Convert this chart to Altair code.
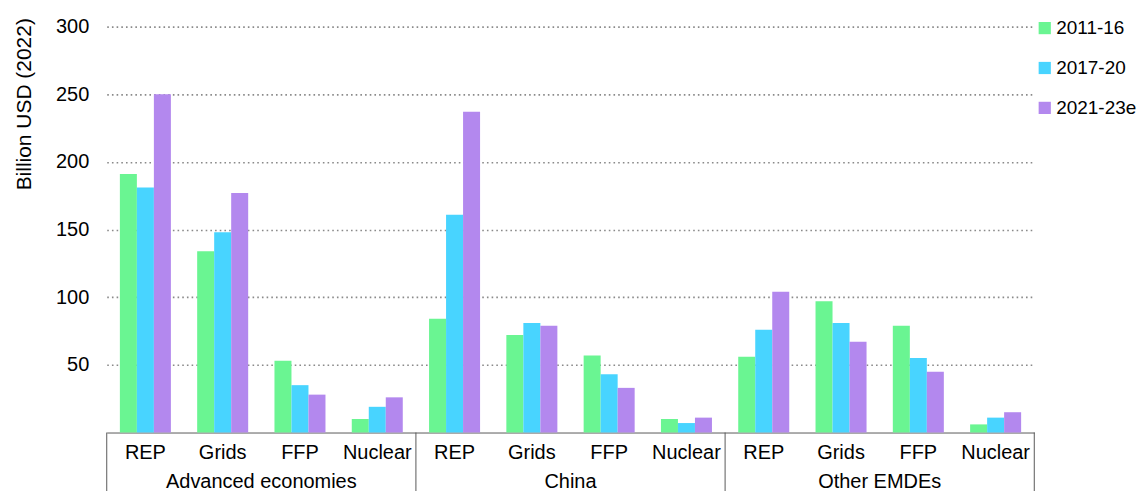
import altair as alt
import pandas as pd

groups = ["Advanced economies", "China", "Other EMDEs"]
sectors = ["REP", "Grids", "FFP", "Nuclear"]
periods = ["2011-16", "2017-20", "2021-23e"]
colors = ["#6AF592", "#48D4FF", "#B388EE"]

# values per group, per period, in sector order (REP, Grids, FFP, Nuclear)
adv_2011 = [191, 134, 53, 10]
adv_2017 = [181, 148, 35, 19]
adv_2021 = [250, 177, 28, 26]
chn_2011 = [84, 72, 57, 10]
chn_2017 = [161, 81, 43, 7]
chn_2021 = [237, 79, 33, 11]
oth_2011 = [56, 97, 79, 6]
oth_2017 = [76, 81, 55, 11]
oth_2021 = [104, 67, 45, 15]

# group boundaries / centres on a 0..3 group-index scale
boundaries = [0, 1, 2, 3]
centres = [0.5, 1.5, 2.5]

series = {
    "Advanced economies": [adv_2011, adv_2017, adv_2021],
    "China": [chn_2011, chn_2017, chn_2021],
    "Other EMDEs": [oth_2011, oth_2017, oth_2021],
}

rows = []
for g in groups:
    for p, vals in zip(periods, series[g]):
        for s, v in zip(sectors, vals):
            rows.append({"key": f"{g}|{s}", "group": g, "sector": s, "period": p, "value": v})
df = pd.DataFrame(rows)
keys = [f"{g}|{s}" for g in groups for s in sectors]

bound_df = pd.DataFrame({"pos": boundaries})
label_df = pd.DataFrame({"pos": centres, "group": groups})

W = 930
H = 407
FONT = "Liberation Sans"
FS = 20
LINE = "#595959"

bars = alt.Chart(df).mark_bar().encode(
    x=alt.X(
        "key:N",
        sort=keys,
        title=None,
        scale=alt.Scale(domain=keys, paddingInner=0.34, paddingOuter=0.17),
        axis=alt.Axis(
            labelExpr="split(datum.label, '|')[1]",
            labelAngle=0,
            ticks=False,
            grid=False,
            domainColor=LINE,
            domainWidth=1,
            labelFontSize=FS,
            labelColor="#000000",
            labelPadding=10,
        ),
    ),
    xOffset=alt.XOffset("period:N", sort=periods),
    y=alt.Y(
        "value:Q",
        scale=alt.Scale(domain=[0, 300]),
        axis=alt.Axis(
            values=[50, 100, 150, 200, 250, 300],
            title="Billion USD (2022)",
            titleFontSize=21,
            titleFontWeight="normal",
            titleColor="#000000",
            titleAnchor="end",
            titleY=-9,
            titlePadding=21,
            labelFontSize=FS,
            labelColor="#000000",
            labelPadding=18,
            domain=False,
            ticks=False,
            gridColor="#8a8a8a",
            gridDash=[1.6, 3.1],
            gridWidth=1.6,
        ),
    ),
    color=alt.Color(
        "period:N",
        sort=periods,
        scale=alt.Scale(domain=periods, range=colors),
        legend=alt.Legend(
            title=None,
            orient="none",
            legendX=W + 1,
            legendY=-8,
            symbolType="square",
            symbolSize=150,
            symbolStrokeWidth=0,
            labelFontSize=19,
            labelColor="#000000",
            labelOffset=2,
            rowPadding=20,
        ),
    ),
)

group_x = alt.X("pos:Q", scale=alt.Scale(domain=[0, 3], nice=False, zero=False), axis=None)

seps = alt.Chart(bound_df).mark_rule(color=LINE, strokeWidth=1).encode(
    x=group_x, y=alt.value(H), y2=alt.value(H + 60)
)

glabels = alt.Chart(label_df).mark_text(
    fontSize=FS, color="#000000", baseline="alphabetic", align="center"
).encode(x=group_x, y=alt.value(H + 56), text="group:N")

chart = (
    alt.layer(bars, seps, glabels)
    .resolve_scale(x="independent")
    .properties(width=W, height=H, padding={"top": 8, "left": 5, "right": 0, "bottom": 0})
    .configure(font=FONT)
    .configure_view(strokeWidth=0)
)

chart.save("out.html", embed_options={"renderer": "svg", "actions": False})
